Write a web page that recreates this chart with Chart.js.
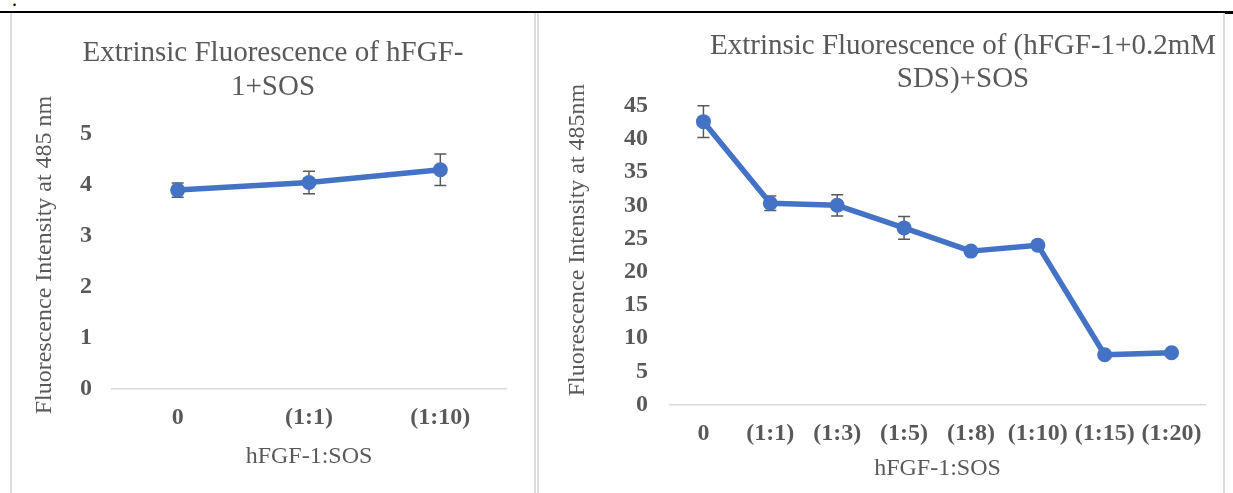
<!DOCTYPE html>
<html>
<head>
<meta charset="utf-8">
<script src="https://cdn.jsdelivr.net/npm/chart.js@4.4.1/dist/chart.umd.min.js"></script>
<style>
  html, body { margin: 0; padding: 0; background: #fff; }
  body { width: 1233px; height: 493px; position: relative; overflow: hidden;
         font-family: "Liberation Serif", "Times New Roman", serif; }
  #c1 { position: absolute; left: 0; top: 0; }
  #c2 { position: absolute; left: 537px; top: 0; }
  .rule { position: absolute; left: 0; top: 11px; width: 1233px; height: 2px; background: #000; }
  .rule-end { position: absolute; left: 1225px; top: 12px; width: 8px; height: 2px; background: #000; }
  .edge { position: absolute; top: 13px; bottom: 0; width: 2px; background: #dcdcdc; }
  .dot { position: absolute; left: 12px; top: -11px; font-size: 20px; line-height: 20px; color: #000; }
</style>
</head>
<body>
<div class="dot">.</div>
<canvas id="c1" width="537" height="493"></canvas>
<canvas id="c2" width="696" height="493"></canvas>
<div class="rule"></div>
<div class="rule-end"></div>
<div class="edge" style="left:10px"></div>
<div class="edge" style="left:534px"></div>
<div class="edge" style="left:537px"></div>
<div class="edge" style="left:1223px"></div>
<script>
// ---- data: hFGF-1 + SOS ----
const ratiosA = ['0', '(1:1)', '(1:10)'];
const intensityA = [3.90, 4.05, 4.30];
const errorA = [0.14, 0.22, 0.31];
const yTicksA = [0, 1, 2, 3, 4, 5];

// ---- data: (hFGF-1 + 0.2mM SDS) + SOS ----
const ratiosB = ['0', '(1:1)', '(1:3)', '(1:5)', '(1:8)', '(1:10)', '(1:15)', '(1:20)'];
const intensityB = [42.6, 30.3, 30.0, 26.6, 23.1, 24.0, 7.5, 7.8];
const errorB = [2.4, 1.1, 1.6, 1.7, 0.3, 0.3, 0.3, 0.3];
const yTicksB = [0, 5, 10, 15, 20, 25, 30, 35, 40, 45];

const titleA = ['Extrinsic Fluorescence of hFGF-', '1+SOS'];
const titleB = ['Extrinsic Fluorescence of (hFGF-1+0.2mM', 'SDS)+SOS'];
const yTitleA = 'Fluorescence Intensity at 485 nm';
const yTitleB = 'Fluorescence Intensity at 485nm';
const xTitle = 'hFGF-1:SOS';

const TEXT = '#595959';
const BLUE = '#4472C4';
const SERIF = '"Liberation Serif", "Times New Roman", serif';

// vertical error bars drawn under the markers
const errorBars = {
  id: 'errorBars',
  beforeDatasetsDraw(chart, args, opts) {
    const { ctx, scales: { x, y } } = chart;
    const vals = chart.data.datasets[0].data;
    ctx.save();
    ctx.strokeStyle = opts.color;
    ctx.lineWidth = 1.5;
    vals.forEach((v, i) => {
      const e = opts.errors[i];
      if (!e) return;
      const px = x.getPixelForValue(i);
      const top = y.getPixelForValue(v + e);
      const bot = y.getPixelForValue(v - e);
      ctx.beginPath();
      ctx.moveTo(px, top); ctx.lineTo(px, bot);
      ctx.moveTo(px - 6, top); ctx.lineTo(px + 6, top);
      ctx.moveTo(px - 6, bot); ctx.lineTo(px + 6, bot);
      ctx.stroke();
    });
    ctx.restore();
  }
};

// chart title lines and rotated value-axis title
const panelText = {
  id: 'panelText',
  afterDraw(chart, args, o) {
    const ctx = chart.ctx;
    ctx.save();
    ctx.fillStyle = TEXT;
    ctx.textAlign = 'center';
    ctx.textBaseline = 'alphabetic';
    ctx.font = `29px ${SERIF}`;
    o.lines.forEach((t, i) => ctx.fillText(t, o.titleX, o.titleY + i * o.lineGap));
    ctx.font = `24px ${SERIF}`;
    ctx.translate(o.yTitleX, o.yTitleY);
    ctx.rotate(-Math.PI / 2);
    ctx.textBaseline = 'middle';
    ctx.fillText(o.yTitle, 0, 0);
    ctx.restore();
  }
};

function makeChart(id, cfg) {
  return new Chart(document.getElementById(id), {
    type: 'line',
    data: {
      labels: cfg.labels,
      datasets: [{
        data: cfg.values,
        borderColor: BLUE,
        backgroundColor: BLUE,
        borderWidth: 5.5,
        borderJoinStyle: 'round',
        borderCapStyle: 'round',
        pointRadius: 7.5,
        pointHoverRadius: 7.5,
        pointBackgroundColor: BLUE,
        pointBorderWidth: 0,
        tension: 0
      }]
    },
    plugins: [errorBars, panelText],
    options: {
      responsive: false,
      animation: false,
      events: [],
      layout: { padding: { left: 0, top: cfg.areaTop, right: cfg.padRight, bottom: 0 } },
      plugins: {
        legend: { display: false },
        title: { display: false },
        tooltip: { enabled: false },
        errorBars: { errors: cfg.errors, color: TEXT },
        panelText: cfg.text
      },
      scales: {
        x: {
          type: 'category',
          offset: true,
          grid: { display: false, drawTicks: false },
          border: { display: true, color: '#d9d9d9', width: 1.5 },
          ticks: {
            color: TEXT, autoSkip: false, maxRotation: 0, minRotation: 0,
            padding: cfg.xTickPad,
            font: { family: SERIF, size: 24, weight: 'bold' }
          },
          title: {
            display: true, text: xTitle, color: TEXT,
            font: { family: SERIF, size: 24 },
            padding: { top: 0, bottom: cfg.xTitlePad }
          },
          afterFit(s) { s.height = cfg.xHeight; }
        },
        y: {
          min: 0, max: cfg.yMax,
          grid: { display: false, drawTicks: false },
          border: { display: false },
          afterBuildTicks(s) { s.ticks = cfg.yTicks.map(v => ({ value: v })); },
          ticks: {
            color: TEXT, padding: cfg.yTickPad,
            font: { family: SERIF, size: 24, weight: 'bold' }
          },
          afterFit(s) { s.width = cfg.yWidth; }
        }
      }
    }
  });
}

makeChart('c1', {
  labels: ratiosA, values: intensityA, errors: errorA, yTicks: yTicksA, yMax: 5,
  areaTop: 134, padRight: 31, xHeight: 104, yWidth: 112,
  yTickPad: 20, xTickPad: 14, xTitlePad: 22,
  text: { lines: titleA, titleX: 273, titleY: 61, lineGap: 33.5,
          yTitle: yTitleA, yTitleX: 45, yTitleY: 255 }
});

makeChart('c2', {
  labels: ratiosB, values: intensityB, errors: errorB, yTicks: yTicksB, yMax: 45,
  areaTop: 105.7, padRight: 28, xHeight: 88.5, yWidth: 133,
  yTickPad: 22, xTickPad: 15, xTitlePad: 10,
  text: { lines: titleB, titleX: 426, titleY: 54, lineGap: 33,
          yTitle: yTitleB, yTitleX: 41, yTitleY: 240 }
});
</script>
</body>
</html>
